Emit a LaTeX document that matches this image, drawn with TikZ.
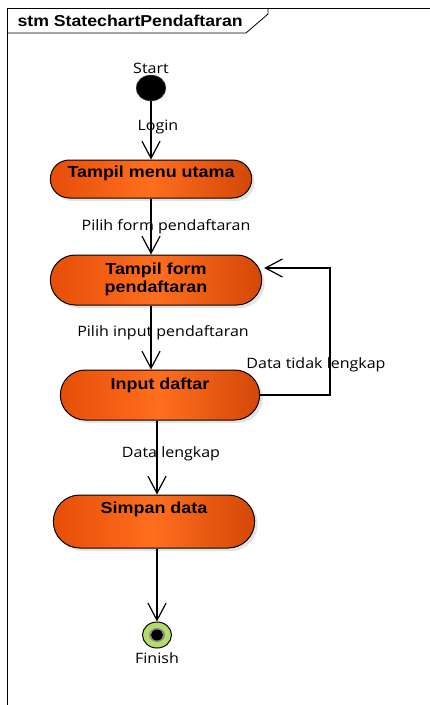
\documentclass[tikz,border=0pt]{standalone}
\usepackage{fontspec}
\setmainfont{Liberation Sans}
\newfontfamily\labelfont[FakeStretch=1.12]{Open Sans}
\newfontfamily\statefont[FakeStretch=1.12]{Liberation Sans}
\usetikzlibrary{arrows.meta,shapes.misc,shapes.geometric,shadows}
\definecolor{stateorange}{HTML}{E64E08}
\definecolor{stateorangelight}{HTML}{FF6E1E}
\definecolor{finishgreen}{HTML}{B2DD6A}
\tikzset{
  state/.style={rounded rectangle, draw=black, line width=1pt,
    left color=stateorange, right color=stateorange!92!black, middle color=stateorangelight,
    drop shadow={shadow xshift=3pt, shadow yshift=-3pt, fill=black!22},
    font=\statefont\bfseries\fontsize{16}{18}\selectfont, align=center, text height=12pt},
  trans/.style={line width=1.2pt, -{Straight Barb[length=17pt,width=18pt,line width=1.2pt]}},
  translabel/.style={font=\labelfont\fontsize{14.3}{16}\selectfont, inner sep=1pt}
}
\begin{document}
\begin{tikzpicture}[x=1pt, y=-1pt]
    \useasboundingbox (0,0) rectangle (430,705);

    % frame and title tab
    \draw[line width=0.8pt] (7,705) -- (7,8) -- (430,8);
    \draw[line width=0.8pt] (7,33) -- (246,33) -- (268,14) -- (268,8);
    \node[font=\statefont\bfseries\fontsize{15.8}{18}\selectfont, anchor=west] (title) at (14,21) {stm StatechartPendaftaran};

    % states
    \node[ellipse, fill=black, draw=black!60, minimum width=30pt, minimum height=26pt, inner sep=0pt,
      label={[translabel]above:Start}] (start) at (151,88) {};
    \node[state, minimum width=208pt, minimum height=38pt, text depth=14.6pt] (menu) at (151,179) {Tampil menu utama};
    \node[state, minimum width=218pt, minimum height=50pt, text height=25.4pt, text depth=0pt] (form) at (156,280) {Tampil form\\pendaftaran};
    \node[state, minimum width=206pt, minimum height=50pt, text depth=22.6pt] (input) at (160,395) {Input daftar};
    \node[state, minimum width=208pt, minimum height=53pt, text depth=27.6pt] (simpan) at (154,521.5) {Simpan data};
    \node[ellipse, fill=finishgreen, draw=black, line width=1pt, minimum width=29pt, minimum height=26pt, inner sep=0pt,
      path picture={\fill[black!45] (path picture bounding box.center) ellipse (8pt and 7pt);
        \fill[black] (path picture bounding box.center) ellipse (6pt and 5.5pt);},
      label={[translabel, label distance=3pt]below:Finish}] (finish) at (157,635) {};

    % Draw the edges
    \draw[trans] (start) -- node[translabel, pos=0.45, xshift=7pt] {Login} (start |- menu.north);
    \draw[trans] (menu.south) -- node[translabel, pos=0.5, xshift=15pt] {Pilih form pendaftaran} (menu.south |- form.north);
    \draw[trans] (form.south -| menu.south) -- node[translabel, pos=0.42, xshift=12pt] {Pilih input pendaftaran} (menu.south |- input.north);
    \draw[trans] (input.south -| finish) -- node[translabel, pos=0.45, xshift=14pt] {Data lengkap} (finish |- simpan.north);
    \draw[trans] (simpan.south -| finish) -- (finish);
    \coordinate (loop) at (330,268);
    \draw[trans] (input.east) -| node[translabel, pos=0.62, xshift=-14pt] {Data tidak lengkap} (loop) -- ([xshift=2pt]form.east |- loop);

\end{tikzpicture}
\end{document}
